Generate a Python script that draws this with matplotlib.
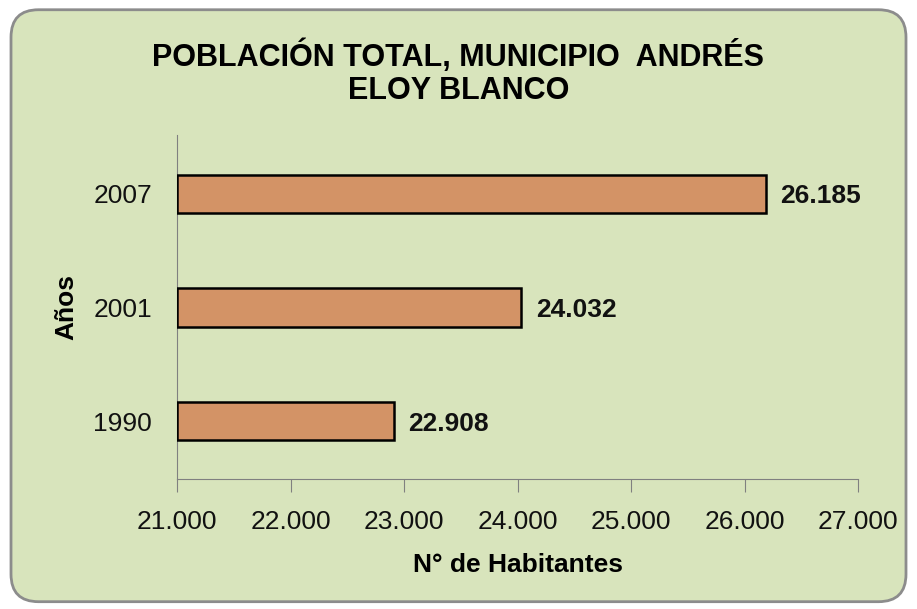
import matplotlib
matplotlib.use("Agg")
import matplotlib.pyplot as plt
from matplotlib.patches import FancyBboxPatch
from matplotlib.ticker import FuncFormatter

years = ["1990", "2001", "2007"]
population = [22908, 24032, 26185]
x_ticks = [21000, 22000, 23000, 24000, 25000, 26000, 27000]

plt.rcParams['font.family'] = ['Liberation Sans', 'DejaVu Sans']

fig = plt.figure(figsize=(9.17, 6.09), dpi=100)
fig.patch.set_facecolor('white')
bg = FancyBboxPatch((0.012, 0.012), 0.976, 0.972, boxstyle="round,pad=0,rounding_size=0.03",
                    transform=fig.transFigure, facecolor='#D8E4BC', edgecolor='#8C8C8C',
                    linewidth=2, zorder=-10, mutation_aspect=917/609)
fig.add_artist(bg)

ax = fig.add_axes([0.193, 0.2135, 0.743, 0.565])
ax.set_zorder(5)
ax.set_facecolor('none')
base = 21000
ax.barh(range(len(years)), [p - base for p in population], left=base, height=0.335,
        color='#D39366', edgecolor='black', linewidth=1.8, zorder=3)
for i, p in enumerate(population):
    ax.text(p + 130, i, f"{p:,}".replace(",", "."), va='center_baseline', ha='left',
            fontsize=19, fontweight='bold', color='#111111')

ax.set_xlim(21000, 27000)
ax.set_ylim(-0.51, 2.52)
ax.set_xticks(x_ticks)
ax.xaxis.set_major_formatter(FuncFormatter(lambda v, p: f"{int(v):,}".replace(",", ".")))
ax.set_yticks(range(len(years)))
ax.set_yticklabels(years)
ax.tick_params(axis='x', labelsize=19, length=9, color='#808080', pad=13, labelcolor='#111111')
ax.tick_params(axis='y', labelsize=19, length=0, pad=18, labelcolor='#111111')
for s in ['top', 'right']:
    ax.spines[s].set_visible(False)
ax.spines['left'].set_color('#808080')
ax.spines['bottom'].set_color('#808080')
ax.set_xlabel("N° de Habitantes", fontsize=19, fontweight='bold', labelpad=14)
ax.set_ylabel("Años", fontsize=19, fontweight='bold', labelpad=11)

fig.text(0.5, 0.880, "POBLACIÓN TOTAL, MUNICIPIO  ANDRÉS\nELOY BLANCO", ha='center', va='center',
         fontsize=22, fontweight='bold', linespacing=1.12)

fig.savefig("out.png", dpi=100)
